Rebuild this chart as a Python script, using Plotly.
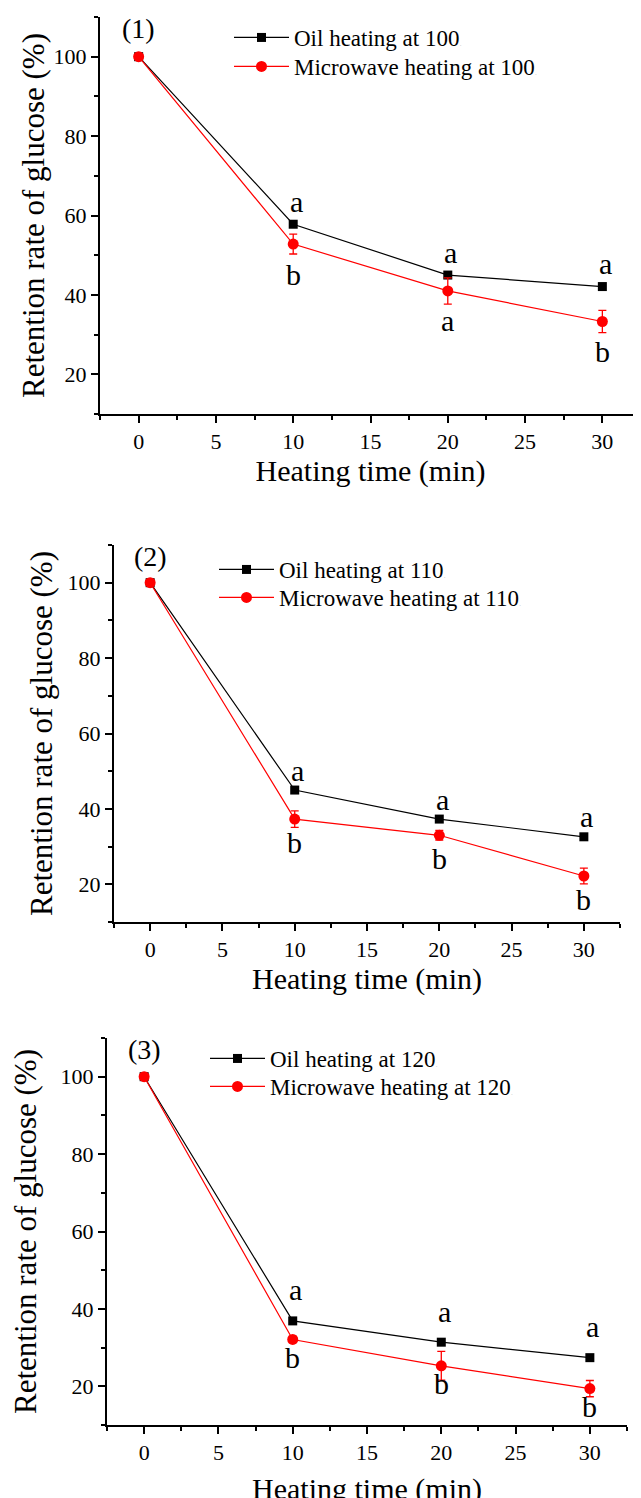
import plotly.graph_objects as go

# ---------------- data ----------------
time_min = [0, 10, 20, 30]
x_ticks = [0, 5, 10, 15, 20, 25, 30]
y_ticks = [20, 40, 60, 80, 100]

temps = ["100", "110", "120"]
panel_labels = ["(1)", "(2)", "(3)"]

oil_100 = [100, 57.8, 45.0, 42.1]
mw_100 = [100, 52.8, 41.0, 33.3]
mw_100_err = [0.6, 2.5, 3.3, 2.8]
oil_100_letters = ["", "a", "a", "a"]
mw_100_letters = ["", "b", "a", "b"]

oil_110 = [100, 45.0, 37.3, 32.6]
mw_110 = [100, 37.3, 33.0, 22.2]
mw_110_err = [0.6, 2.2, 1.3, 2.1]
oil_110_letters = ["", "a", "a", "a"]
mw_110_letters = ["", "b", "b", "b"]

oil_120 = [100, 36.9, 31.4, 27.4]
mw_120 = [100, 32.1, 25.3, 19.4]
mw_120_err = [0.6, 0.8, 3.7, 2.1]
oil_120_letters = ["", "a", "a", "a"]
mw_120_letters = ["", "b", "b", "b"]

oil_series = [oil_100, oil_110, oil_120]
mw_series = [mw_100, mw_110, mw_120]
mw_errors = [mw_100_err, mw_110_err, mw_120_err]
oil_letters = [oil_100_letters, oil_110_letters, oil_120_letters]
mw_letters = [mw_100_letters, mw_110_letters, mw_120_letters]

# ---------------- layout / style ----------------
W, H = 641, 1498
FONT = "Liberation Serif"
OFF = 8  # page body margin

# plot-area boxes in page pixels: (left, right, top, bottom)
boxes = [(100, 641, 17, 414), (114, 620, 545, 922), (107, 627, 1038, 1425)]
# legend rows (page px): text start x, row-1 centre y, row-2 centre y
legend_rows = [(294, 36, 65), (279, 568, 596), (270, 1057, 1085)]
ITEMW = 55
TEXT_OFF = 2 * 5 + ITEMW   # distance legend-left -> text start
ROW_OFF = 20               # distance legend-top -> row centre
# letter offsets (px) above oil / below microwave
shift_up = [23, 20, 31]
shift_down = [30, 23, 18]
ytitle_standoff = [0, 6, 15]
xtitle_standoff = [2, 4, 17]

fig = go.Figure()
annotations = []
legend_count = 0

for i in range(3):
    sfx = "" if i == 0 else str(i + 1)
    xa, ya = "x" + sfx, "y" + sfx
    faint = '<span style="color:#cfcfcf;font-size:9px">.</span>'
    tx, r1, r2 = legend_rows[i]

    leg_names = []
    for ry in (r1, r2):
        legend_count += 1
        lname = "legend" if legend_count == 1 else "legend" + str(legend_count)
        leg_names.append(lname)
        fig.layout[lname] = dict(
            x=(tx - OFF - TEXT_OFF) / W, y=1 - (ry - OFF - ROW_OFF) / H,
            xanchor="left", yanchor="top", xref="paper", yref="paper",
            bgcolor="rgba(0,0,0,0)", borderwidth=0, itemwidth=ITEMW,
            font=dict(family=FONT, size=23, color="black"))

    fig.add_trace(go.Scatter(
        x=time_min, y=oil_series[i], mode="lines+markers",
        name="Oil heating at " + temps[i] + faint,
        line=dict(color="black", width=1.2),
        marker=dict(symbol="square", size=9, color="black"),
        xaxis=xa, yaxis=ya, legend=leg_names[0]))
    fig.add_trace(go.Scatter(
        x=time_min, y=mw_series[i], mode="lines+markers",
        name="Microwave heating at " + temps[i] + faint,
        line=dict(color="#ff0000", width=1.2),
        marker=dict(symbol="circle", size=11, color="#ff0000"),
        error_y=dict(type="data", array=mw_errors[i], visible=True,
                     color="#ff0000", thickness=1.3, width=4),
        xaxis=xa, yaxis=ya, legend=leg_names[1]))

    l, r, t, b = [v - OFF for v in boxes[i]]
    common = dict(showline=True, linecolor="black", linewidth=2,
                  ticks="outside", ticklen=7, tickwidth=1.5, tickcolor="black",
                  showgrid=False, zeroline=False, mirror=False,
                  tickfont=dict(family=FONT, size=22, color="black"))
    fig.layout["xaxis" + sfx] = dict(
        common, domain=[l / W, r / W], anchor=ya, range=[-2.5, 32.5],
        tickvals=x_ticks,
        minor=dict(ticks="outside", ticklen=4, tickwidth=1.5, tickcolor="black",
                   tick0=0, dtick=2.5),
        title=dict(text="Heating time (min)", standoff=xtitle_standoff[i],
                   font=dict(family=FONT, size=30, color="black")))
    fig.layout["yaxis" + sfx] = dict(
        common, domain=[1 - b / H, 1 - t / H], anchor=xa, range=[10, 110],
        tickvals=y_ticks,
        minor=dict(ticks="outside", ticklen=4, tickwidth=1.5, tickcolor="black",
                   tick0=0, dtick=10),
        title=dict(text="Retention rate of glucose (%)", standoff=ytitle_standoff[i],
                   font=dict(family=FONT, size=31, color="black")))

    annotations.append(dict(x=0, y=107, xref=xa, yref=ya, text=panel_labels[i],
                            showarrow=False, font=dict(family=FONT, size=28, color="black")))
    for k, tv in enumerate(time_min):
        if oil_letters[i][k]:
            annotations.append(dict(x=tv, y=oil_series[i][k], xref=xa, yref=ya,
                                    text=oil_letters[i][k], showarrow=False,
                                    yshift=shift_up[i], xshift=3,
                                    font=dict(family=FONT, size=30, color="black")))
        if mw_letters[i][k]:
            annotations.append(dict(x=tv, y=mw_series[i][k], xref=xa, yref=ya,
                                    text=mw_letters[i][k], showarrow=False,
                                    yshift=-shift_down[i],
                                    font=dict(family=FONT, size=30, color="black")))

fig.update_layout(width=W, height=H, margin=dict(l=0, r=0, t=0, b=0),
                  paper_bgcolor="white", plot_bgcolor="white",
                  annotations=annotations, showlegend=True)

fig.write_html("out.html")
